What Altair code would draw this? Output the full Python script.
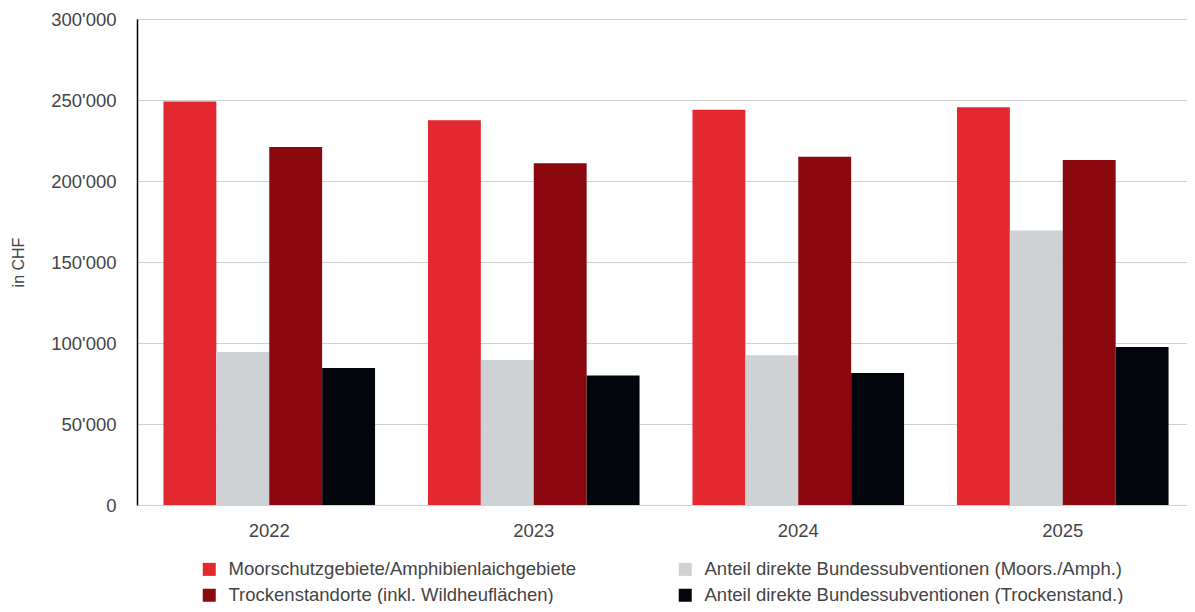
import altair as alt
import pandas as pd

years = ["2022", "2023", "2024", "2025"]
series = [
    "Moorschutzgebiete/Amphibienlaichgebiete",
    "Anteil direkte Bundessubventionen (Moors./Amph.)",
    "Trockenstandorte (inkl. Wildheuflächen)",
    "Anteil direkte Bundessubventionen (Trockenstand.)",
]
moor = [249000, 237500, 244000, 245500]
moor_bund = [94500, 89500, 92500, 169500]
trocken = [221000, 211000, 215000, 213000]
trocken_bund = [84500, 80000, 81500, 97500]
colors = ["#E3282F", "#CED2D5", "#8B080E", "#03050C"]

# legend is filled column by column: column 1 = red series, column 2 = subsidy shares
legend_order = [series[0], series[2], series[1], series[3]]
legend_colors = [colors[0], colors[2], colors[1], colors[3]]

rows = []
for s, vals in zip(series, [moor, moor_bund, trocken, trocken_bund]):
    for y, v in zip(years, vals):
        rows.append({"Jahr": y, "Serie": s, "CHF": v})
df = pd.DataFrame(rows)

label_color = "#444444"
font = "Liberation Sans"

chart = alt.Chart(df).mark_bar().encode(
    x=alt.X(
        "Jahr:N",
        sort=years,
        scale=alt.Scale(paddingInner=0.2, paddingOuter=0.1),
        axis=alt.Axis(
            title=None, labelAngle=0, domain=False, ticks=False,
            labelFontSize=18.5, labelColor=label_color, labelFont=font,
            labelPadding=16,
        ),
    ),
    xOffset=alt.XOffset("Serie:N", sort=series, scale=alt.Scale(paddingInner=0, paddingOuter=0)),
    y=alt.Y(
        "CHF:Q",
        scale=alt.Scale(domain=[0, 300000], nice=False),
        axis=alt.Axis(
            title="in CHF", values=[0, 50000, 100000, 150000, 200000, 250000, 300000],
            labelExpr="replace(format(datum.value, ','), regexp(',', 'g'), \"'\")",
            labelFontSize=18.5, labelColor=label_color, labelFont=font, labelPadding=21,
            ticks=False, domain=True, domainColor="#000000", domainWidth=1.5,
            grid=True, gridColor="#D0D0D0", gridWidth=1,
            titleFontSize=16, titleFontWeight="normal", titleColor=label_color, titleFont=font,
            titleX=-119, titleY=243, titleAngle=270, titleAlign="center", titleBaseline="middle",
        ),
    ),
    color=alt.Color(
        "Serie:N",
        scale=alt.Scale(domain=legend_order, range=legend_colors),
        legend=alt.Legend(
            title=None, orient="none", legendX=63, legendY=541, columns=2,
            columnPadding=99, rowPadding=7, symbolType="square", symbolSize=169,
            symbolStrokeWidth=0, labelFontSize=18.5, labelColor=label_color, labelFont=font,
            labelOffset=10, labelLimit=600,
        ),
    ),
).properties(
    width=1058,
    height=486,
    padding={"left": 129, "top": 11, "right": -8, "bottom": 99},
    autosize=alt.AutoSizeParams(type="none"),
).configure_view(stroke=None)

chart.save("out.html", embed_options={"renderer": "svg", "actions": False})
